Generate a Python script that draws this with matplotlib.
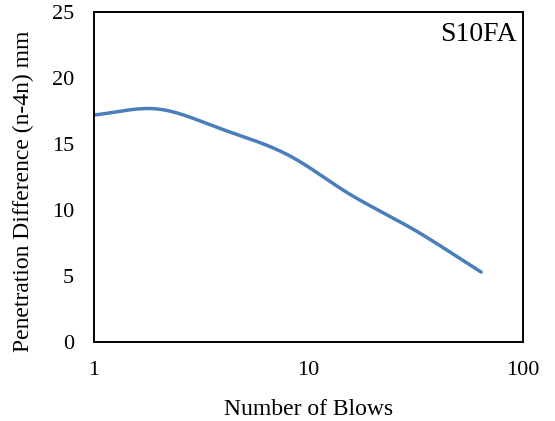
import numpy as np
import matplotlib
matplotlib.use("Agg")
import matplotlib.pyplot as plt
from matplotlib.ticker import FixedLocator, FixedFormatter, NullLocator

plt.rcParams['font.family'] = ['Liberation Serif', 'DejaVu Serif']

# Penetration difference (n - 4n) against number of blows
blows = [1, 2, 4, 8, 16, 32, 64]
pen_diff = [17.2, 17.65, 16.1, 14.2, 11.1, 8.4, 5.3]

x_ticks = [1, 10, 100]
x_tick_labels = ["1", "10", "100"]
y_ticks = [0, 5, 10, 15, 20, 25]


def catmull_rom(px, py, n=40):
    """Smooth curve through the points (Catmull-Rom spline)."""
    px = np.asarray(px, float)
    py = np.asarray(py, float)
    P = np.column_stack([px, py])
    P = np.vstack([2 * P[0] - P[1], P, 2 * P[-1] - P[-2]])
    out = []
    t = np.linspace(0, 1, n, endpoint=False)[:, None]
    for i in range(1, len(P) - 2):
        p0, p1, p2, p3 = P[i - 1], P[i], P[i + 1], P[i + 2]
        seg = 0.5 * ((2 * p1) + (-p0 + p2) * t
                     + (2 * p0 - 5 * p1 + 4 * p2 - p3) * t ** 2
                     + (-p0 + 3 * p1 - 3 * p2 + p3) * t ** 3)
        out.append(seg)
    out.append(P[-2][None, :])
    out = np.vstack(out)
    return out[:, 0], out[:, 1]


lx, ly = catmull_rom(np.log10(blows), pen_diff)

fig = plt.figure(figsize=(5.55, 4.21), dpi=100)
ax = fig.add_axes([0.1685, 0.1876, 0.7733, 0.7838])

ax.plot(10 ** lx, ly, color="#4A7EBB", lw=2.5, solid_capstyle="round")

ax.set_xscale("log")
ax.set_xlim(1, 100)
ax.set_ylim(0, 25)
ax.xaxis.set_major_locator(FixedLocator(x_ticks))
ax.xaxis.set_major_formatter(FixedFormatter(x_tick_labels))
ax.xaxis.set_minor_locator(NullLocator())
ax.set_yticks(y_ticks)
ax.tick_params(axis="both", length=0, labelsize=16, colors="black")
ax.tick_params(axis="x", pad=14)
ax.tick_params(axis="y", pad=14)

for s in ax.spines.values():
    s.set_linewidth(1.4)
    s.set_color("black")

ax.set_xlabel("Number of Blows", fontsize=17, labelpad=13)
ax.set_ylabel("Penetration Difference (n-4n) mm", fontsize=17, labelpad=13)
ax.yaxis.set_label_coords(-0.138, 0.458)

ax.text(0.985, 0.97, "S10FA", transform=ax.transAxes, ha="right", va="top",
        fontsize=20)

fig.savefig("out.png", dpi=100)
